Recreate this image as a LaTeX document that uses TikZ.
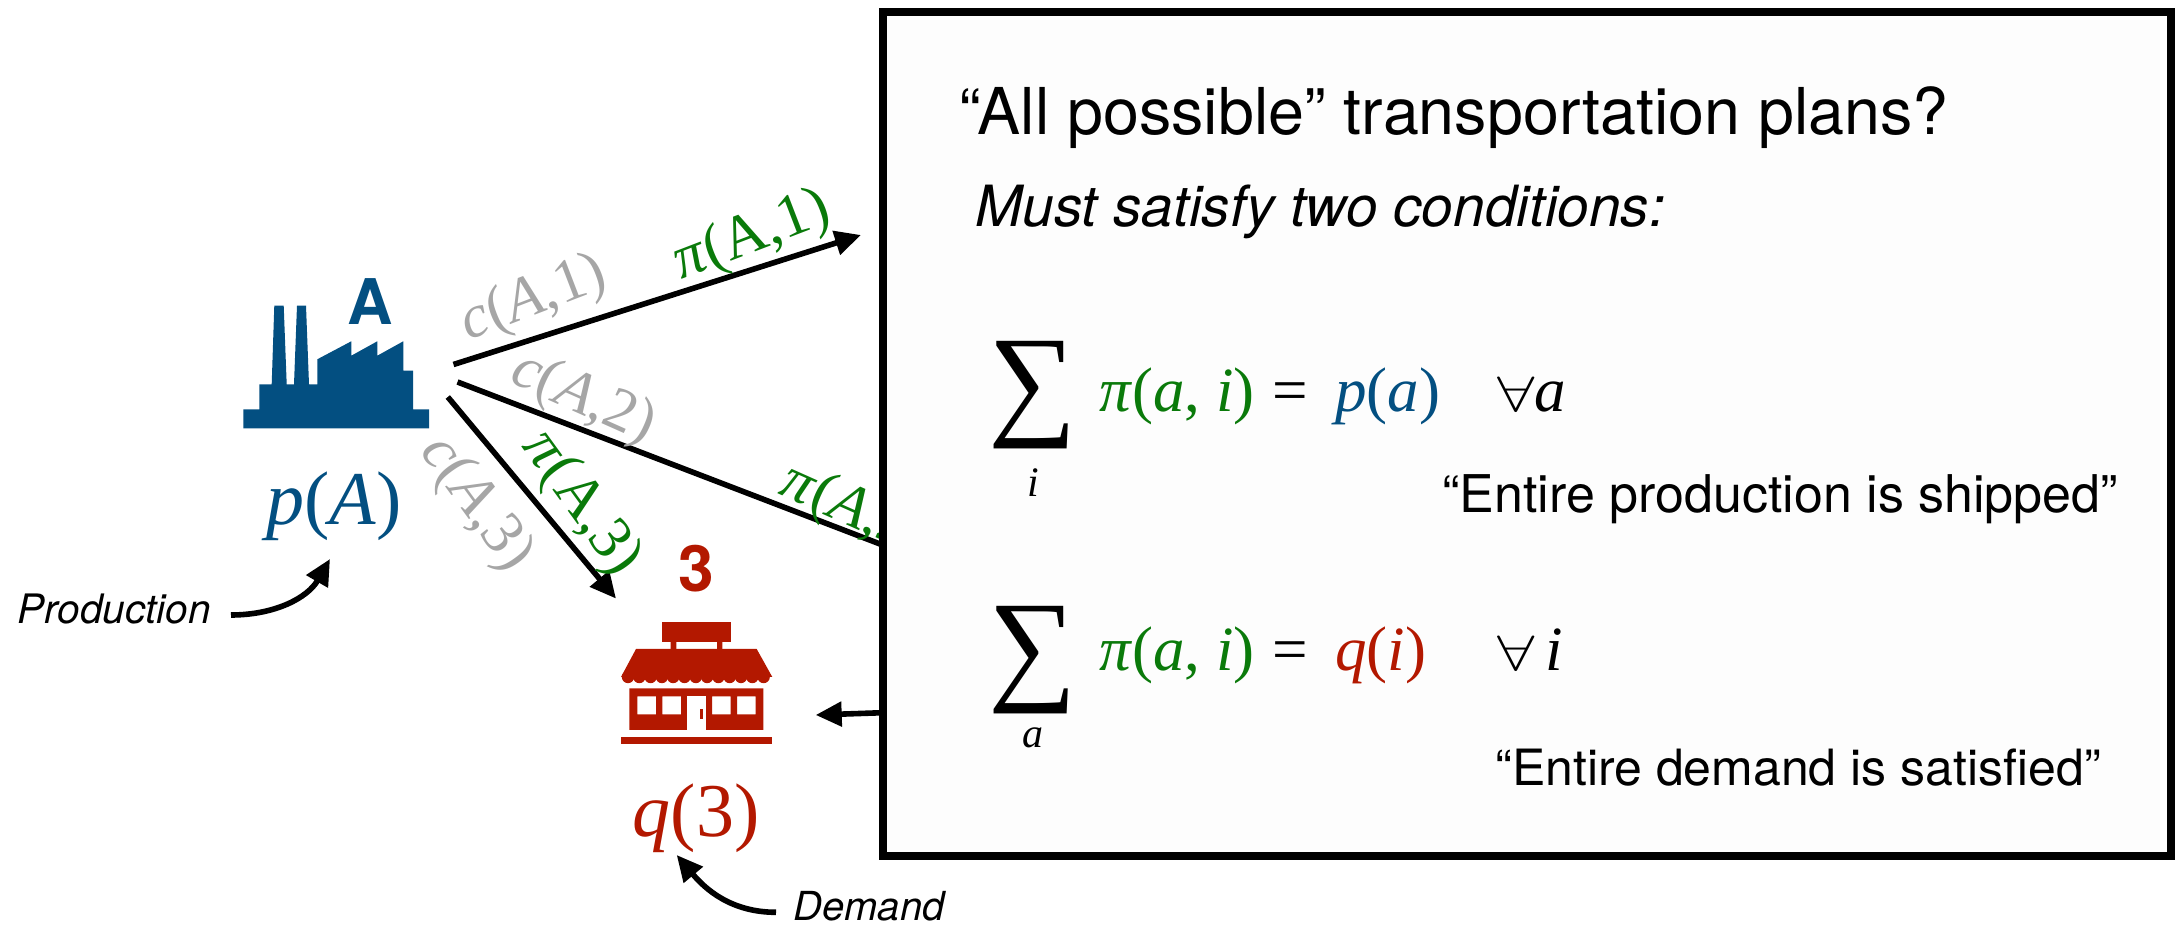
\documentclass[tikz,border=0pt]{standalone}
\usepackage{amsmath,amssymb}
\usepackage{fontspec}
\usepackage{xcolor}
\usetikzlibrary{arrows.meta,positioning,calc}
\setmainfont{TeX Gyre Heros}
\newfontfamily\tnr{Liberation Serif}
\definecolor{plantBlue}{HTML}{034F81}
\definecolor{shopRed}{HTML}{B31800}
\definecolor{planGreen}{HTML}{0A7A0A}
\definecolor{costGray}{HTML}{A6A6A6}
\definecolor{boxWhite}{HTML}{FDFDFD}
\newcommand{\pxsize}[1]{\fontsize{#1}{#1}\selectfont}
\newcommand{\wideall}{\scalebox{1.35}[1]{$\forall$}}

\begin{document}
\begin{tikzpicture}[x=0.5pt,y=-0.5pt,>={Triangle[length=13pt,width=12pt]},
  link/.style={->,line width=2.8pt},
  costlbl/.style={costGray,inner sep=0pt,font=\tnr\pxsize{30.5}},
  planlbl/.style={planGreen,inner sep=0pt,font=\tnr\pxsize{30.5}},
  formula/.style={anchor=base west,inner sep=0pt,font=\tnr\pxsize{31.5}},
  under/.style={inner sep=0pt,font=\tnr\itshape\pxsize{21}},
  sumsign/.style={inner sep=0pt,font=\tnr\pxsize{62}},
  note/.style={anchor=base west,inner sep=0pt,font=\pxsize{26}},
  tag/.style={anchor=base west,inner sep=0pt,font=\itshape\pxsize{20.3}}]
\useasboundingbox (0,0) rectangle (2175,929);
% factory
\fill[plantBlue] (243.3,428.3) -- (243.3,409.3) -- (259.3,409.3) -- (259.3,384.3) -- (271.7,384.3)
  -- (274.3,305.7) -- (283.7,305.7) -- (286.7,384.3) -- (294,384.3) -- (297,305.7) -- (306,305.7)
  -- (309,384.3) -- (317.3,384.3) -- (317.3,359.3) -- (351.3,341.3) -- (351.3,355.7) -- (377.3,341.3)
  -- (377.3,355.7) -- (403.3,341.3) -- (403.3,370.7) -- (413,370.7) -- (413,409.3) -- (429,409.3)
  -- (429,428.3) -- cycle;
\node[plantBlue,inner sep=0pt,font=\bfseries\pxsize{31.5}] (plantA) at (370,302) {A};
\node[plantBlue,anchor=base,inner sep=0pt,font=\tnr\pxsize{38}] (prodA) at (334,525) {\textit{p}(\textit{A})};
% shop
\fill[shopRed] (662.3,621.7) rectangle (730.7,642);
\fill[shopRed] (670.7,642) rectangle (676.3,649) (717,642) rectangle (722.3,649);
\fill[shopRed] (636,649) -- (756.7,649) -- (772.3,677) -- (621,677) -- cycle;
\foreach \i in {0,...,12} \fill[shopRed] ({628+\i*11.3},677) circle (6.2);
\fill[shopRed,even odd rule] (629.3,688.3) rectangle (763.3,730)
  (637.3,696.3) rectangle (656,714.3) (662.3,696.3) rectangle (681,714.3)
  (712,696.3) rectangle (730.7,714.3) (737,696.3) rectangle (755.7,714.3);
\fill[white] (687.3,696.3) rectangle (705.7,730);
\fill[shopRed] (699.7,709.3) rectangle (703,719.3);
\fill[shopRed] (621,737) rectangle (772,744.3);
\node[shopRed,inner sep=0pt,font=\bfseries\pxsize{32}] (shop3) at (696,569) {3};
\node[shopRed,anchor=base,inner sep=0pt,font=\tnr\pxsize{38}] (demand3) at (696,837) {\textit{q}(3)};
% free ends
\coordinate (outA) at (453.5,364.5);
\coordinate (midA) at (457.5,382);
\coordinate (lowA) at (447.8,397);
\coordinate (toOne) at (861,235);
\coordinate (toTwo) at (1000,590);
\coordinate (toThree) at (616,598.6);
\coordinate (toShop) at (815.7,715);
\coordinate (fromProd) at (231,615);
\coordinate (toProd) at (330,559);
\coordinate (fromDem) at (776,912.3);
\coordinate (toDem) at (676.7,855);
% links and their labels
\draw[link] (outA) -- (toOne);
\draw[line width=2.8pt] (midA) -- (toTwo);
\draw[link] (lowA) -- (toThree);
\node[costlbl,rotate=21] (costOne) at (534,300) {\textit{c}(\textit{A},1)};
\node[planlbl,rotate=21] (planOne) at (752,237) {\textit{π}(A,1)};
\node[costlbl,rotate=-24] (costTwo) at (583,399) {\textit{c}(\textit{A},2)};
\node[planlbl,rotate=-24] (planTwo) at (855,512) {\textit{π}(\textit{A},2)};
\node[costlbl,rotate=-54] (costThree) at (476,504) {\textit{c}(\textit{A},3)};
\node[planlbl,rotate=-54] (planThree) at (581,504) {\textit{π}(A,3)};
% conditions box
\node[draw,line width=4pt,fill=boxWhite,inner sep=0pt,minimum width=643.85pt,minimum height=422.1pt] (plans) at (1527.2,434.4) {};
\coordinate (fromBox) at (883,712.7);
\draw[link] (fromBox) -- (toShop);
\node[note,font=\pxsize{32.3}] (title) at (959,135) {“All possible” transportation plans?};
\node[note,font=\itshape\pxsize{28.4}] (must) at (975,227) {Must satisfy two conditions:};
% first condition
\node[sumsign] (sumI) at (1033,395) {∑};
\node[under] (idxI) at (1033,483) {i};
\node[formula,planGreen] (piI) at (1099,412) {\textit{π}(\textit{a}, \textit{i})};
\node[formula] (eqI) at (1272,412) {=};
\node[formula,plantBlue] (prodSum) at (1335,412) {\textit{p}(\textit{a})};
\node[formula] (allA) at (1497,412) {\wideall\textit{a}};
\node[note] (shipped) at (1442,513) {“Entire production is shipped”};
% second condition
\node[sumsign] (sumA) at (1033,660) {∑};
\node[under] (idxA) at (1033,738) {a};
\node[formula,planGreen] (piA) at (1099,671) {\textit{π}(\textit{a}, \textit{i})};
\node[formula] (eqA) at (1272,671) {=};
\node[formula,shopRed] (demSum) at (1335,671) {\textit{q}(\textit{i})};
\node[formula] (allI) at (1497,671) {\wideall\,\textit{i}};
\node[note,font=\pxsize{25}] (satisfied) at (1495,786) {“Entire demand is satisfied”};
% tags
\node[tag] (prodTag) at (17,624) {Production};
\node[tag,font=\itshape\pxsize{20}] (demTag) at (793,921) {Demand};
\draw[link] (fromProd) to[out=0,in=-120] (toProd);
\draw[link] (fromDem) to[out=180,in=-50] (toDem);
\end{tikzpicture}
\end{document}
